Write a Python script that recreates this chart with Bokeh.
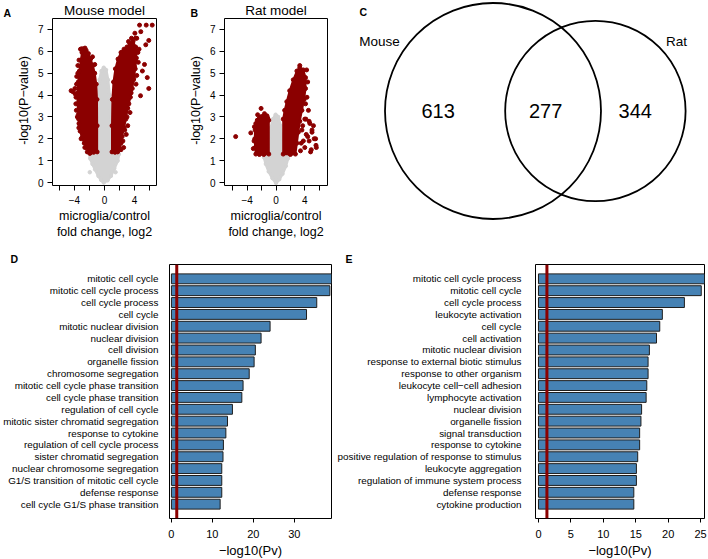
import math
from bokeh.plotting import figure
from bokeh.layouts import row, column
from bokeh.models import Range1d, FixedTicker, Label, Span, Title
from bokeh.embed import file_html
from bokeh.resources import INLINE

FONT = "Liberation Sans"
RED = "#8B0000"
GRAY = "#D3D3D3"
BLUE = "#4682B4"

# ---------------- Volcano data (outlines of dense clouds + outlying points) ----------------
mouse_ns_x = [-0.10, -0.45, -0.80, -1.25, -1.60, -1.90, -2.00, -1.60, -1.00, -0.95, -0.85, -0.65, -0.40, -0.10,
              0.20, 0.45, 0.65, 0.85, 0.98, 1.60, 1.92, 1.75, 1.30, 0.85, 0.40]
mouse_ns_y = [0.00, 0.12, 0.30, 0.60, 0.85, 1.10, 1.35, 1.50, 1.60, 3.00, 4.00, 4.70, 5.10, 5.25,
              5.15, 4.70, 4.00, 3.00, 1.60, 1.45, 1.30, 1.00, 0.65, 0.30, 0.10]
mouse_ns_pts_x = [-1.96, 1.47]
mouse_ns_pts_y = [0.47, 0.47]

mouse_dn_x = [-0.98, -0.98, -1.00, -1.10, -1.30, -1.55, -1.85, -2.15, -2.45, -2.75, -3.00, -3.15, -3.35,
              -3.50, -3.60, -3.60, -3.50, -3.40, -3.25, -3.00, -2.70, -2.40, -2.10, -1.80, -1.45]
mouse_dn_y = [1.40, 2.60, 3.80, 4.50, 5.00, 5.35, 5.65, 5.90, 6.05, 6.10, 5.95, 5.60, 5.10,
              4.60, 4.10, 3.60, 3.10, 2.70, 2.35, 2.05, 1.80, 1.60, 1.45, 1.38, 1.38]
mouse_dn_pts_x = [-4.45, -4.20, -3.95, -3.80, -3.70, -3.20, -3.00, -2.85, -3.55, -3.30, -2.30, -1.95, -3.75,
                  -3.45, -3.40, -3.55, -3.72, -3.82, -3.62, -3.42, -3.12, -2.62, -2.60, -1.60, -1.30, -3.90]
mouse_dn_pts_y = [4.20, 4.15, 4.30, 3.90, 4.85, 6.10, 6.12, 2.15, 5.35, 2.65, 1.40, 1.33, 3.30,
                  2.90, 5.60, 5.00, 4.50, 3.60, 3.00, 2.50, 2.00, 1.60, 6.15, 5.75, 5.40, 4.05]

mouse_up_x = [1.00, 1.00, 1.05, 1.20, 1.45, 1.80, 2.20, 2.60, 3.00, 3.40, 3.80, 4.15, 4.25, 4.10, 3.90,
              3.70, 3.45, 3.10, 2.85, 2.60, 2.35, 2.20, 2.05, 1.75, 1.40]
mouse_up_y = [1.40, 2.60, 3.80, 4.60, 5.20, 5.65, 5.95, 6.10, 6.20, 6.35, 6.45, 6.20, 5.70, 5.20, 4.75,
              4.30, 3.90, 3.40, 2.90, 2.50, 2.10, 1.80, 1.55, 1.40, 1.38]
mouse_up_pts_x = [4.67, 5.56, 6.36, 4.05, 4.84, 4.13, 5.90, 5.50, 4.60, 5.33, 4.30, 5.70, 5.90, 4.80, 4.50,
                  4.20, 3.40, 3.10, 2.90, 4.45, 5.05, 2.55, 4.30, 3.60, 4.40, 4.00, 3.85, 3.55, 3.25, 3.00,
                  2.70, 2.45, 2.20, 3.20]
mouse_up_pts_y = [7.20, 7.20, 7.20, 6.83, 6.90, 6.60, 6.50, 6.30, 6.10, 5.40, 4.90, 4.80, 4.30, 3.97, 5.50,
                  4.50, 3.20, 2.60, 2.20, 5.95, 5.10, 1.60, 6.60, 6.60, 6.00, 5.30, 4.70, 4.10, 3.60, 3.00,
                  2.40, 1.90, 1.50, 6.45]

rat_ns_x = [0.00, -0.50, -1.00, -1.40, -1.65, -1.55, -0.98, -0.90, -0.70, -0.40, -0.05, 0.30, 0.60, 0.85,
            0.98, 1.55, 1.65, 1.35, 0.90, 0.45]
rat_ns_y = [-0.02, 0.20, 0.50, 0.85, 1.15, 1.35, 1.40, 2.00, 2.50, 2.90, 3.10, 3.00, 2.60, 2.00,
            1.40, 1.35, 1.10, 0.75, 0.40, 0.15]
rat_ns_pts_x = []
rat_ns_pts_y = []

rat_dn_x = [-1.00, -1.00, -1.15, -1.40, -1.70, -2.00, -2.30, -2.60, -2.80, -2.90, -2.95, -2.90, -2.80, -2.30, -1.70]
rat_dn_y = [1.30, 2.85, 2.95, 3.00, 3.05, 3.02, 2.95, 2.85, 2.70, 2.40, 2.00, 1.60, 1.30, 1.28, 1.28]
rat_dn_pts_x = [-5.60, -3.50, -2.07, -3.05, -3.15, -2.55, -1.60, -3.00, -1.25]
rat_dn_pts_y = [2.10, 2.27, 3.39, 1.90, 1.55, 3.10, 3.15, 2.55, 3.05]

rat_up_x = [1.00, 1.00, 1.20, 1.50, 1.90, 2.40, 2.90, 3.30, 3.80, 4.10, 4.10, 3.90, 3.60, 3.30, 3.10,
            2.90, 2.70, 2.00]
rat_up_y = [1.30, 2.90, 3.30, 3.70, 4.20, 4.70, 5.10, 5.25, 5.15, 4.80, 4.30, 3.80, 3.30, 2.80, 2.30,
            1.80, 1.30, 1.28]
rat_up_pts_x = [4.25, 4.40, 4.10, 4.50, 4.70, 5.00, 5.30, 5.55, 4.90, 4.40, 4.15, 5.20, 4.60, 3.30,
                4.30, 4.00, 4.60, 3.60, 4.20, 5.00, 5.50, 3.50, 4.00, 4.80, 5.60, 3.40, 3.80, 3.70]
rat_up_pts_y = [5.15, 4.60, 3.60, 3.30, 2.70, 2.30, 2.00, 1.70, 1.50, 2.10, 2.90, 2.60, 1.90, 5.35,
                3.90, 2.90, 2.80, 2.40, 2.20, 2.40, 2.00, 1.80, 1.60, 1.40, 1.60, 1.45, 1.90, 2.60]

volcano_y_ticks = [0, 1, 2, 3, 4, 5, 6, 7]
volcano_x_ticks = [-6, -4, -2, 0, 2, 4, 6]
volcano_x_labels = {-6: "", -4: "\u22124", -2: "", 0: "0", 2: "", 4: "4", 6: ""}
volcano_ylabel = "-log10(P\u2212value)"
volcano_xlabel = ["microglia/control", "fold change, log2"]

# ---------------- Venn data ----------------
venn_sets = ["Mouse", "Rat"]
venn_only_mouse = 613
venn_both = 277
venn_only_rat = 344

# ---------------- GO enrichment data ----------------
d_terms = ["mitotic cell cycle", "mitotic cell cycle process", "cell cycle process", "cell cycle",
           "mitotic nuclear division", "nuclear division", "cell division", "organelle fission",
           "chromosome segregation", "mitotic cell cycle phase transition", "cell cycle phase transition",
           "regulation of cell cycle", "mitotic sister chromatid segregation", "response to cytokine",
           "regulation of cell cycle process", "sister chromatid segregation", "nuclear chromosome segregation",
           "G1/S transition of mitotic cell cycle", "defense response", "cell cycle G1/S phase transition"]
d_values = [39.1, 38.7, 35.5, 33.0, 24.1, 21.9, 20.5, 20.2, 19.0, 17.5, 17.2, 14.9, 13.7, 13.3, 12.7,
            12.6, 12.3, 12.3, 12.3, 11.9]
d_ticks = [0, 10, 20, 30]

e_terms = ["mitotic cell cycle process", "mitotic cell cycle", "cell cycle process", "leukocyte activation",
           "cell cycle", "cell activation", "mitotic nuclear division", "response to external biotic stimulus",
           "response to other organism", "leukocyte cell\u2212cell adhesion", "lymphocyte activation",
           "nuclear division", "organelle fission", "signal transduction", "response to cytokine",
           "positive regulation of response to stimulus", "leukocyte aggregation",
           "regulation of immune system process", "defense response", "cytokine production"]
e_values = [25.6, 25.1, 22.5, 19.1, 18.7, 18.2, 17.1, 16.9, 16.9, 16.7, 16.6, 15.9, 15.8, 15.6, 15.6,
            15.3, 15.1, 15.1, 14.7, 14.7]
e_ticks = [0, 5, 10, 15, 20, 25]
go_xlabel = "\u2212log10(Pv)"

p_cutoff = 0.05

TOP_H = 250
BOT_H = 309


def blank(width, height):
    p = figure(width=width, height=height, x_range=Range1d(0, width), y_range=Range1d(height, 0),
               output_backend="svg", toolbar_location=None, title=None,
               min_border_left=0, min_border_right=0, min_border_top=0, min_border_bottom=0,
               x_axis_location=None, y_axis_location=None)
    p.grid.visible = False
    p.outline_line_color = None
    return p


def txt(p, x, y, text, size, align="center", baseline="alphabetic", angle=0.0, bold=False):
    p.add_layout(Label(x=x, y=y, text=text, text_font=FONT, text_font_size=size, text_align=align,
                       text_baseline=baseline, angle=angle, text_color="black",
                       text_font_style="bold" if bold else "normal"))


def strip(width, letter, letter_x, label_x):
    p = blank(width, TOP_H)
    txt(p, letter_x, 12, letter, "10.5px", align="left", bold=True)
    txt(p, label_x, 100, volcano_ylabel, "12.5px", baseline="middle", angle=math.pi / 2)
    return p


def style_common(p):
    p.grid.visible = False
    p.outline_line_color = "black"
    p.outline_line_width = 1
    p.background_fill_color = "white"
    p.border_fill_color = "white"


def volcano(width, mbl, mbr, xr, title,
            ns_x, ns_y, ns_px, ns_py, dn_x, dn_y, dn_px, dn_py, up_x, up_y, up_px, up_py):
    p = figure(width=width, height=TOP_H, x_range=Range1d(-xr, xr), y_range=Range1d(-0.137, 7.503),
               output_backend="svg", toolbar_location=None, title=title,
               min_border_left=mbl, min_border_right=mbr, min_border_top=18, min_border_bottom=TOP_H - 185)
    style_common(p)
    p.title.align = "center"
    p.title.text_font = FONT
    p.title.text_font_size = "13.5px"
    p.title.text_font_style = "normal"
    p.title.text_color = "black"
    p.title.standoff = 1
    p.patch(ns_x, ns_y, fill_color=GRAY, line_color=GRAY, line_width=3)
    p.scatter(ns_x, ns_y, size=3.5, color=GRAY)
    if ns_px:
        p.scatter(ns_px, ns_py, size=3.5, color=GRAY)
    for xs, ys, pxs, pys in [(dn_x, dn_y, dn_px, dn_py), (up_x, up_y, up_px, up_py)]:
        p.patch(xs, ys, fill_color=RED, line_color=RED, line_width=2)
        p.scatter(xs, ys, size=4, color=RED)
        p.scatter(pxs, pys, size=4, color=RED)
    p.xaxis.ticker = FixedTicker(ticks=volcano_x_ticks)
    p.xaxis.major_label_overrides = volcano_x_labels
    p.yaxis.ticker = FixedTicker(ticks=volcano_y_ticks)
    for ax in [p.xaxis[0], p.yaxis[0]]:
        ax.axis_line_color = None
        ax.major_tick_line_color = "black"
        ax.major_tick_out = 5
        ax.major_tick_in = 0
        ax.minor_tick_line_color = None
        ax.major_label_text_font = FONT
        ax.major_label_text_font_size = "10px"
        ax.major_label_text_color = "black"
    p.xaxis.major_label_standoff = 5
    p.yaxis.major_label_standoff = 4
    for line in volcano_xlabel:
        p.add_layout(Title(text=line, align="center", text_font=FONT, text_font_size="12.5px",
                           text_font_style="normal", text_color="black", standoff=0), "below")
    return p


sA = strip(33, "A", 3, 23)
pA = volcano(139, 19, 16, 6.93, "Mouse model",
             mouse_ns_x, mouse_ns_y, mouse_ns_pts_x, mouse_ns_pts_y,
             mouse_dn_x, mouse_dn_y, mouse_dn_pts_x, mouse_dn_pts_y,
             mouse_up_x, mouse_up_y, mouse_up_pts_x, mouse_up_pts_y)
sB = strip(32, "B", 18, 23)
pB = volcano(132, 20, 9, 7.15, "Rat model",
             rat_ns_x, rat_ns_y, rat_ns_pts_x, rat_ns_pts_y,
             rat_dn_x, rat_dn_y, rat_dn_pts_x, rat_dn_pts_y,
             rat_up_x, rat_up_y, rat_up_pts_x, rat_up_pts_y)

# ---------------- Venn ----------------
CW = 372
pC = blank(CW, TOP_H)


def lens_area(r1, r2, d):
    if d >= r1 + r2:
        return 0.0
    if d <= abs(r1 - r2):
        return math.pi * min(r1, r2) ** 2
    a1 = r1 * r1 * math.acos((d * d + r1 * r1 - r2 * r2) / (2 * d * r1))
    a2 = r2 * r2 * math.acos((d * d + r2 * r2 - r1 * r1) / (2 * d * r2))
    a3 = 0.5 * math.sqrt((-d + r1 + r2) * (d + r1 - r2) * (d - r1 + r2) * (d + r1 + r2))
    return a1 + a2 - a3


n_mouse = venn_only_mouse + venn_both
n_rat = venn_only_rat + venn_both
r1 = 108.0
k = r1 / math.sqrt(n_mouse)
r2 = k * math.sqrt(n_rat)
target = venn_both * k * k * math.pi
lo, hi = abs(r1 - r2) + 1e-6, r1 + r2 - 1e-6
for _ in range(100):
    mid = (lo + hi) / 2
    if lens_area(r1, r2, mid) > target:
        lo = mid
    else:
        hi = mid
dist = (lo + hi) / 2
c1x, cy = 156.5, 110.5
c2x = c1x + dist
pC.circle(x=[c1x, c2x], y=[cy, cy], radius=[r1, r2], fill_color=None, line_color="black", line_width=1.8)
txt(pC, ((c1x - r1) + (c2x - r2)) / 2 - 7, cy, str(venn_only_mouse), "20px", baseline="middle")
txt(pC, ((c2x - r2) + (c1x + r1)) / 2 - 7.5, cy, str(venn_both), "20px", baseline="middle")
txt(pC, ((c1x + r1) + (c2x + r2)) / 2 - 8, cy, str(venn_only_rat), "20px", baseline="middle")
txt(pC, c1x - 113.5, cy - 69.5, venn_sets[0], "13.5px", baseline="middle")
txt(pC, c2x + 81, cy - 69.5, venn_sets[1], "13.5px", baseline="middle")
txt(pC, 23, 11, "C", "10.5px", align="left", bold=True)


# ---------------- GO bar charts ----------------
def go_bars(terms, values, ticks, width, mbl, mbr, x0, x1, letter, letter_x, title_off, standoff):
    n = len(terms)
    ys = [n - i for i in range(n)]
    y0, y1 = 1 - 0.5 - 0.708, n + 0.5 + 0.708
    p = figure(width=width, height=BOT_H, x_range=Range1d(x0, x1), y_range=Range1d(y0, y1),
               output_backend="svg", toolbar_location=None, title=None,
               min_border_left=mbl, min_border_right=mbr, min_border_top=13, min_border_bottom=BOT_H - 268)
    style_common(p)
    p.hbar(y=ys, left=0, right=values, height=1 / 1.2, fill_color=BLUE, line_color="#1e1e1e", line_width=1)
    p.add_layout(Span(location=-math.log10(p_cutoff), dimension="height", line_color=RED, line_width=3))
    p.yaxis.ticker = FixedTicker(ticks=ys)
    p.yaxis.major_label_overrides = {y: t for y, t in zip(ys, terms)}
    p.yaxis.axis_line_color = None
    p.yaxis.major_tick_line_color = None
    p.yaxis.minor_tick_line_color = None
    p.yaxis.major_label_standoff = standoff
    p.yaxis.major_label_text_font = FONT
    p.yaxis.major_label_text_font_size = "9.9px"
    p.yaxis.major_label_text_color = "black"
    p.xaxis.ticker = FixedTicker(ticks=ticks)
    p.xaxis.axis_line_color = None
    p.xaxis.major_tick_line_color = "black"
    p.xaxis.major_tick_out = 4
    p.xaxis.major_tick_in = 0
    p.xaxis.minor_tick_line_color = None
    p.xaxis.major_label_standoff = 7
    p.xaxis.major_label_text_font = FONT
    p.xaxis.major_label_text_font_size = "11px"
    p.xaxis.major_label_text_color = "black"
    p.add_layout(Title(text=letter, align="left", offset=letter_x - mbl, text_font=FONT,
                       text_font_size="10.5px", text_font_style="bold", text_color="black", standoff=0), "above")
    p.add_layout(Title(text=go_xlabel, align="center", offset=title_off, text_font=FONT,
                       text_font_size="13px", text_font_style="normal", text_color="black", standoff=0), "below")
    return p


pD = go_bars(d_terms, d_values, d_ticks, 334, 162, 3, -0.47, 39.1, "D", 3, -11.5, 5)
pE = go_bars(e_terms, e_values, e_ticks, 374, 200, 4, -0.46, 25.6, "E", 10, -4, 8)

# non-plot panels are wrapped in their own columns so that their frames are not
# aligned with the volcano plot frames of the same row
layout = column(row(column(sA), pA, column(sB), pB, column(pC)), row(pD, pE))
open("out.html", "w").write(file_html(layout, INLINE))
